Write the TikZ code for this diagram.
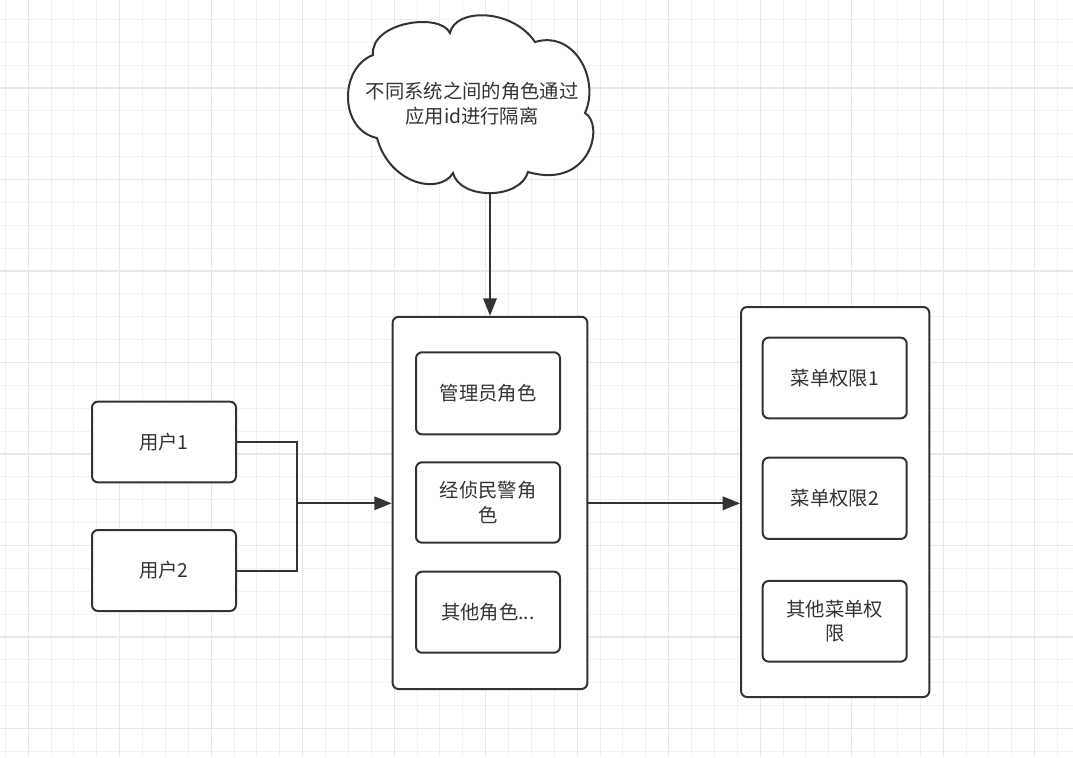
\documentclass[tikz,border=0pt]{standalone}
\usepackage{fontspec}
\newfontfamily\cjk{Noto Sans CJK SC}
\usetikzlibrary{arrows.meta}
\definecolor{ink}{HTML}{333333}
\definecolor{gridminor}{HTML}{F1F1F1}
\definecolor{gridmajor}{HTML}{E8E8E8}
\tikzset{
  box/.style={draw=ink, line width=1.5pt, rounded corners=4.5pt, fill=white, text=ink,
    font=\cjk\fontsize{14.5pt}{18.5pt}\selectfont, align=center, inner sep=0pt},
  cloudtext/.style={text=ink, font=\cjk\fontsize{14.5pt}{18.8pt}\selectfont, align=center, inner sep=0pt},
  link/.style={draw=ink, line width=1.5pt},
  arr/.style={draw=ink, line width=1.5pt, -{Triangle[length=13pt,width=10pt]}},
}
\begin{document}
\begin{tikzpicture}[x=0.75pt,y=-0.75pt]
\useasboundingbox (0,0) rectangle (1073,757);
\fill[white] (0,0) rectangle (1073,757);
% grid
\foreach \i in {0,...,46} {
  \pgfmathsetmacro\xx{5.3+22.875*\i}
  \draw[gridminor, line width=0.75pt] (\xx,0) -- (\xx,757);
}
\foreach \i in {0,...,32} {
  \pgfmathsetmacro\yy{19.4+22.875*\i}
  \draw[gridminor, line width=0.75pt] (0,\yy) -- (1073,\yy);
}
\foreach \i in {1,5,...,45} {
  \pgfmathsetmacro\xx{5.3+22.875*\i}
  \draw[gridmajor, line width=0.9pt] (\xx,0) -- (\xx,757);
}
\foreach \i in {3,7,...,31} {
  \pgfmathsetmacro\yy{19.4+22.875*\i}
  \draw[gridmajor, line width=0.9pt] (0,\yy) -- (1073,\yy);
}

% cloud
\draw[ink, line width=1.5pt, fill=white]
  (377,138) .. controls (339,130) and (339,68) .. (373,55)
  .. controls (370,22) and (440,12) .. (450,33)
  .. controls (455,8) and (512,8) .. (535,42)
  .. controls (575,30) and (600,80) .. (585,113)
  .. controls (605,125) and (590,190) .. (528,172)
  .. controls (520,200) and (460,200) .. (453,173)
  .. controls (440,195) and (390,185) .. (377,138) -- cycle;
\node[cloudtext] (cloud) at (472,104) {不同系统之间的角色通过\\应用id进行隔离};
\coordinate (cloudbottom) at (490,193);

% users
\node[box, minimum width=108pt, minimum height=60.5pt] (u1) at (164,442) {用户1};
\node[box, minimum width=108pt, minimum height=60.75pt] (u2) at (164,570.5) {用户2};

% roles
\node[box, minimum width=146pt, minimum height=279.2pt] (roles) at (490,502.9) {};
\node[box, minimum width=108pt, minimum height=61.5pt] (r1) at (488,393.3) {管理员角色};
\node[box, minimum width=108pt, minimum height=60.3pt] (r2) at (488,502.5) {经侦民警角\\色};
\node[box, minimum width=108pt, minimum height=60.75pt] (r3) at (488,612.2) {其他角色...};

% permissions
\node[box, minimum width=141.2pt, minimum height=292.5pt] (perms) at (835.2,502) {};
\node[box, minimum width=108pt, minimum height=60.5pt] (p1) at (834.7,378) {菜单权限1};
\node[box, minimum width=108pt, minimum height=61pt] (p2) at (834.7,498.3) {菜单权限2};
\node[box, minimum width=108pt, minimum height=60.5pt] (p3) at (834.7,621.3) {其他菜单权\\限};

% connectors
\coordinate (join) at (296.7,503.3);
\draw[link] (u1.east) -| (join);
\draw[link] (u2.east) -| (join);
\draw[arr] (join) -- (join -| roles.west);
\draw[arr] (cloudbottom) -- (roles.north);
\draw[arr] (roles.east |- join) -- (perms.west |- join);
\end{tikzpicture}
\end{document}
